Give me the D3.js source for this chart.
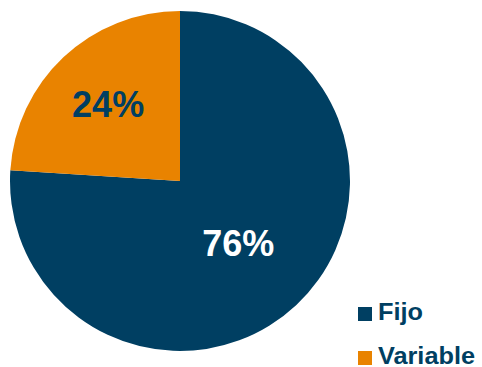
<!DOCTYPE html>
<html>
<head>
<meta charset="utf-8">
<script src="https://cdn.jsdelivr.net/npm/d3@7"></script>
<style>
  body { margin: 0; background: #fff; }
  text { font-family: "Liberation Sans", Arial, sans-serif; font-weight: bold; }
</style>
</head>
<body>
<script>
var categories = ["Fijo", "Variable"];
var values = [76, 24];
var colors = ["#003F62", "#E98300"];

var width = 482, height = 367;
var cx = 180, cy = 181, radius = 170;

var svg = d3.select("body").append("svg")
    .attr("width", width).attr("height", height);

var g = svg.append("g").attr("transform", "translate(" + cx + "," + cy + ")");

var pie = d3.pie().sort(null).value(function(d) { return d; });
var arcs = pie(values);

var arc = d3.arc().innerRadius(0).outerRadius(radius);

g.selectAll("path")
    .data(arcs)
    .enter().append("path")
    .attr("d", arc)
    .attr("fill", function(d, i) { return colors[i]; });

// etiquetas dentro del pastel
var total = d3.sum(values);
g.selectAll("text.lbl")
    .data(arcs)
    .enter().append("text")
    .attr("class", "lbl")
    .attr("transform", function(d, i) {
        var r = i === 0 ? 85 : 105;
        var a = (d.startAngle + d.endAngle) / 2;
        return "translate(" + (Math.sin(a) * r) + "," + (-Math.cos(a) * r) + ")";
    })
    .attr("text-anchor", "middle")
    .attr("dy", "0.36em")
    .style("font-size", "36px")
    .attr("fill", function(d, i) { return i === 0 ? "#fff" : colors[0]; })
    .text(function(d) { return Math.round(d.value / total * 100) + "%"; });

// leyenda
var legend = svg.append("g").attr("transform", "translate(358,307)");
var item = legend.selectAll("g")
    .data(categories)
    .enter().append("g")
    .attr("transform", function(d, i) { return "translate(0," + (i * 44) + ")"; });

item.append("rect")
    .attr("width", 14).attr("height", 14)
    .attr("fill", function(d, i) { return colors[i]; });

item.append("text")
    .attr("transform", "translate(20,13) scale(1.1,1)")
    .style("font-size", "23px")
    .attr("fill", colors[0])
    .text(function(d) { return d; });
</script>
</body>
</html>
